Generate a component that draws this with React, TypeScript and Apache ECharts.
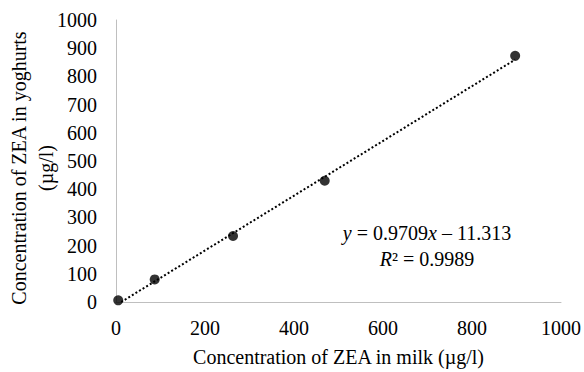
import React, { useEffect, useRef } from "react";
import * as echarts from "echarts";

const milkConc = [5, 87, 263, 469, 897];
const yoghurtConc = [6, 80, 234, 430, 873];
const xTicks = [0, 200, 400, 600, 800, 1000];
const yTicks = [0, 100, 200, 300, 400, 500, 600, 700, 800, 900, 1000];
const slope = 0.9709;
const intercept = -11.313;
const rSquared = 0.9989;
const xTitle = "Concentration of ZEA in milk (µg/l)";
const yTitle = "Concentration of ZEA in yoghurts\n(µg/l)";

const FONT = "'Liberation Serif', 'Times New Roman', serif";

export default function App() {
  const ref = useRef<HTMLDivElement>(null);
  useEffect(() => {
    if (!ref.current) return;
    const chart = echarts.init(ref.current, undefined, { renderer: "svg" });
    const xMax = Math.max(...milkConc);
    const xStart = Math.max(Math.min(...milkConc), -intercept / slope);
    const trend = [
      [xStart, slope * xStart + intercept],
      [xMax, slope * xMax + intercept],
    ];
    chart.setOption({
      animation: false,
      backgroundColor: "#ffffff",
      grid: { left: 116, right: 22, top: 20, bottom: 69 },
      xAxis: {
        type: "value",
        min: xTicks[0],
        max: xTicks[xTicks.length - 1],
        interval: 200,
        axisLine: { show: true, lineStyle: { color: "#bfbfbf", width: 1 } },
        axisTick: { show: false },
        splitLine: { show: false },
        axisLabel: {
          color: "#000",
          fontFamily: FONT,
          fontSize: 20,
          margin: 16,
          formatter: (v: number) => String(v),
        },
        name: xTitle,
        nameLocation: "middle",
        nameGap: 45,
        nameTextStyle: { color: "#000", fontFamily: FONT, fontSize: 20 },
      },
      yAxis: {
        type: "value",
        min: yTicks[0],
        max: yTicks[yTicks.length - 1],
        interval: 100,
        axisLine: { show: true, lineStyle: { color: "#bfbfbf", width: 1 } },
        axisTick: { show: false },
        splitLine: { show: false },
        axisLabel: {
          color: "#000",
          fontFamily: FONT,
          fontSize: 20,
          margin: 19,
          formatter: (v: number) => String(v),
        },
      },
      graphic: [
        {
          type: "text",
          x: 32,
          y: 168,
          rotation: Math.PI / 2,
          style: {
            text: yTitle,
            fill: "#000",
            font: `20px ${FONT}`,
            align: "center",
            verticalAlign: "middle",
            lineHeight: 27,
          },
        },
        {
          type: "text",
          x: 427,
          y: 220,
          style: {
            text: `{i|y} = ${slope}{i|x} – ${Math.abs(intercept).toFixed(3)}\n{i|R}² = ${rSquared}`,
            align: "center",
            verticalAlign: "top",
            fill: "#000",
            font: `20px ${FONT}`,
            lineHeight: 26,
            rich: {
              i: { fontStyle: "italic", fontFamily: FONT, fontSize: 20, fill: "#000" },
            },
          },
        },
      ],
      series: [
        {
          type: "line",
          data: trend,
          showSymbol: false,
          symbol: "none",
          lineStyle: { color: "#000", width: 2, type: [2, 2.2], cap: "butt" },
          z: 2,
        },
        {
          type: "scatter",
          data: milkConc.map((x, i) => [x, yoghurtConc[i]]),
          symbol: "circle",
          symbolSize: 10,
          itemStyle: { color: "#000" },
          z: 3,
        },
      ],
    });
    return () => chart.dispose();
  }, []);
  return <div ref={ref} style={{ width: 584, height: 372, position: "absolute", left: 0, top: 0 }} />;
}
